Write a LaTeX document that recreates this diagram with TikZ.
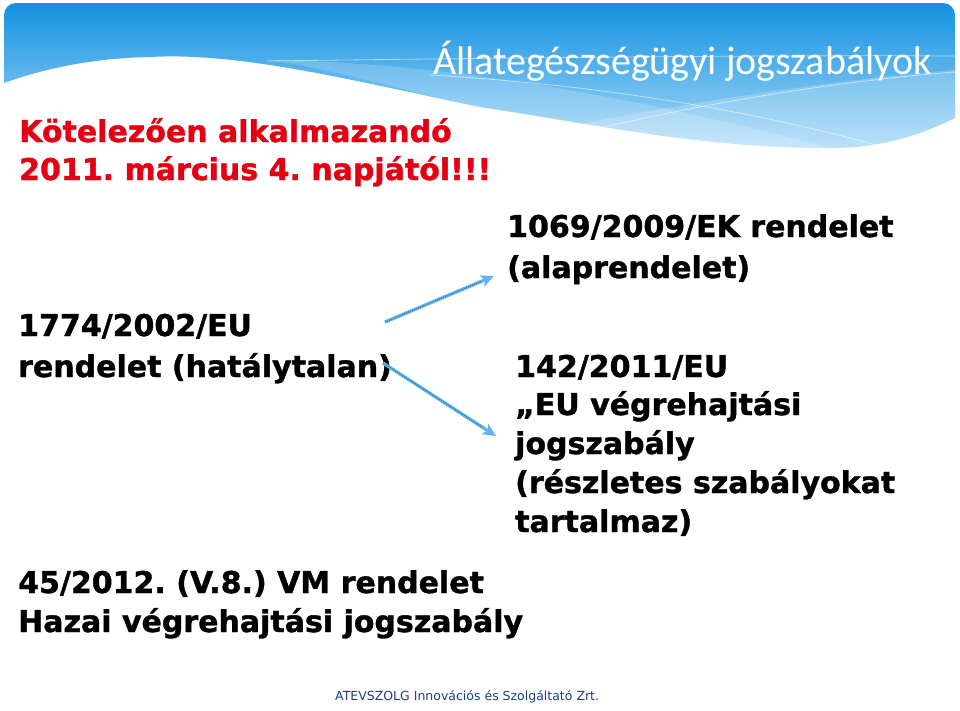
\documentclass[tikz,border=0pt]{standalone}
\usepackage{fontspec}
\setmainfont{DejaVu Sans}[BoldFeatures={FakeBold=1.2}]
\newfontfamily\titlefont{Carlito}
\usetikzlibrary{arrows.meta,calc}
\definecolor{slidered}{RGB}{228,0,18}
\definecolor{footblue}{RGB}{30,60,140}
\definecolor{arrowblue}{RGB}{100,180,232}
\definecolor{arrowdark}{RGB}{40,115,185}
\definecolor{hdtop}{RGB}{14,144,224}
\definecolor{hdmid}{RGB}{60,168,236}
\definecolor{hdbot}{RGB}{170,218,248}
\frenchspacing
\begin{document}
\begin{tikzpicture}[x=1pt,y=-1pt,
  redtxt/.style={anchor=base west,inner sep=0,text=slidered,font=\bfseries\fontsize{30}{36}\selectfont},
  blktxt/.style={anchor=base west,inner sep=0,text=black,font=\bfseries\fontsize{30}{36}\selectfont},
  titletxt/.style={anchor=base west,inner sep=0,text=white,font=\titlefont\fontsize{40}{48}\selectfont},
  foottxt/.style={anchor=base west,inner sep=0,text=footblue,font=\fontsize{12.5}{15}\selectfont},
  arrowline/.style={draw=arrowblue,line width=3.3pt,-{Stealth[length=13pt,width=12pt,inset=3pt]}},
  arrowtex/.style={draw=arrowdark,line width=1.3pt,dash pattern=on 0.8pt off 1.3pt},
  waveline/.style={draw=white,line width=0.8pt,opacity=0.55}]
\useasboundingbox (0,0) rectangle (960,710);
\fill[white] (0,0) rectangle (960,710);
% header
\begin{scope}
\clip[rounded corners=12pt] (4,3) rectangle (955,220);
\shade[top color=hdtop,middle color=hdmid,bottom color=hdbot]
  (4,83) -- (4,0) -- (955,0) -- (955,118)
  .. controls (930,130) and (890,148) .. (830,148)
  .. controls (700,148) and (600,125) .. (480,107)
  .. controls (350,80) and (240,52) .. (150,57)
  .. controls (90,58) and (40,70) .. (4,83) -- cycle;
\fill[white,opacity=0.18]
  (267,60) .. controls (450,62) and (650,100) .. (830,148)
  .. controls (700,148) and (600,125) .. (480,107)
  .. controls (400,90) and (330,68) .. (267,60) -- cycle;
\fill[white,opacity=0.2]
  (560,128) .. controls (700,100) and (850,78) .. (955,70) -- (955,118)
  .. controls (930,130) and (890,148) .. (830,148)
  .. controls (720,148) and (640,140) .. (560,128) -- cycle;
\draw[waveline] (267,61) .. controls (500,58) and (750,55) .. (955,56);
\draw[waveline] (430,75) .. controls (600,85) and (750,110) .. (880,146);
\draw[waveline] (600,128) .. controls (720,100) and (850,80) .. (955,72);
\end{scope}
\node[titletxt] (title) at (433,74) {Állategészségügyi jogszabályok};
% red text
\node[redtxt] (red1) at (19,142) {Kötelezően alkalmazandó};
\node[redtxt] (red2) at (19,180) {2011. március 4. napjától!!!};
% left group
\node[blktxt] (old1) at (18,336) {1774/2002/EU};
\node[blktxt] (old2) at (18,377) {rendelet (hatálytalan)};
% right group 1
\node[blktxt] (ek1) at (507,237) {1069/2009/EK rendelet};
\node[blktxt] (ek2) at (507,278) {(alaprendelet)};
% right group 2
\node[blktxt] (eu1) at (515,377) {142/2011/EU};
\node[blktxt] (eu2) at (515,415) {„EU végrehajtási};
\node[blktxt] (eu3) at (515,454) {jogszabály};
\node[blktxt] (eu4) at (515,493) {(részletes szabályokat};
\node[blktxt] (eu5) at (515,532) {tartalmaz)};
% bottom group
\node[blktxt] (vm1) at (18,593) {45/2012. (V.8.) VM rendelet};
\node[blktxt] (vm2) at (18,632) {Hazai végrehajtási jogszabály};
% footer
\node[foottxt] (foot) at (335,700) {ATEVSZOLG Innovációs és Szolgáltató Zrt.};
% arrows
\coordinate (a1s) at (385,322);
\coordinate (a1e) at (494,276);
\coordinate (a2s) at (383,363);
\coordinate (a2e) at (496,436);
\draw[arrowline] (a1s) -- (a1e);
\draw[arrowtex] (a1s) -- ($(a1s)!0.88!(a1e)$);
\draw[arrowline] (a2s) -- (a2e);
\draw[arrowtex] (a2s) -- ($(a2s)!0.88!(a2e)$);
\end{tikzpicture}
\end{document}
